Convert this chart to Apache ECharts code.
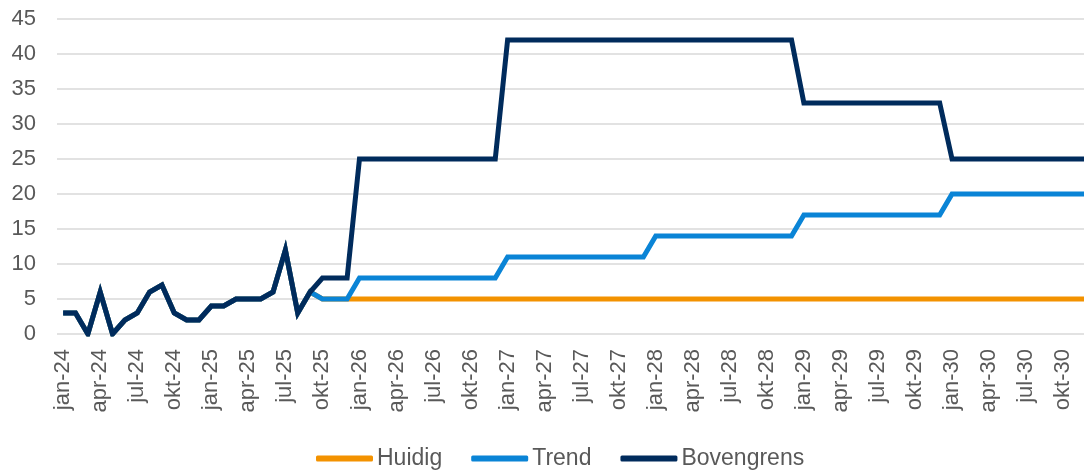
<!DOCTYPE html>
<html>
<head>
<meta charset="utf-8">
<script src="https://cdn.jsdelivr.net/npm/echarts@6/dist/echarts.min.js"></script>
<style>
    html, body { margin: 0; padding: 0; background: #fff; }
    #chartMain { width: 1084px; height: 471px; }
</style>
</head>
<body>
<div id="chartMain"></div>
<script>
// maandnamen voor de as (jan-24 t/m dec-30)
var monthNames = ['jan','feb','mrt','apr','mei','jun','jul','aug','sep','okt','nov','dec'];
var years = ['24','25','26','27','28','29','30'];

// gerealiseerd (jan-24 t/m sep-25)
var realised = [3,3,0,6,0,2,3,6,7,3,2,2,4,4,5,5,5,6,12,3,6];

// vooruitblik okt-25 t/m dec-30
var huidigForecast = [5,5,5,
    5,5,5,5,5,5,5,5,5,5,5,5,
    5,5,5,5,5,5,5,5,5,5,5,5,
    5,5,5,5,5,5,5,5,5,5,5,5,
    5,5,5,5,5,5,5,5,5,5,5,5,
    5,5,5,5,5,5,5,5,5,5,5,5];
var trendForecast = [5,5,5,
    8,8,8,8,8,8,8,8,8,8,8,8,
    11,11,11,11,11,11,11,11,11,11,11,11,
    14,14,14,14,14,14,14,14,14,14,14,14,
    17,17,17,17,17,17,17,17,17,17,17,17,
    20,20,20,20,20,20,20,20,20,20,20,20];
var bovengrensForecast = [8,8,8,
    25,25,25,25,25,25,25,25,25,25,25,25,
    42,42,42,42,42,42,42,42,42,42,42,42,
    42,42,42,42,42,42,42,42,42,42,42,42,
    33,33,33,33,33,33,33,33,33,33,33,33,
    25,25,25,25,25,25,25,25,25,25,25,25];

var yTicks = [0,5,10,15,20,25,30,35,40,45];

var categories = [];
for (var y = 0; y < years.length; y++) {
    for (var m = 0; m < monthNames.length; m++) {
        categories.push(monthNames[m] + '-' + years[y]);
    }
}

var fontName = '"Liberation Sans", Arial, sans-serif';
var textColor = '#595959';

function makeLine(name, color, forecast) {
    return {
        name: name,
        type: 'line',
        data: realised.concat(forecast),
        symbol: 'none',
        lineStyle: { color: color, width: 5, join: 'miter' },
        itemStyle: { color: color },
        animation: false
    };
}

var myChart = echarts.init(document.getElementById('chartMain'));
var option = {
    backgroundColor: '#fff',
    // plot loopt rechts iets buiten beeld door (laatste maand valt weg)
    grid: { left: 57, width: 1037, top: 19, bottom: 137, outerBoundsMode: 'none' },
    legend: {
        bottom: 1,
        left: 316,
        padding: 0,
        icon: 'roundRect',
        itemWidth: 57,
        itemHeight: 6,
        itemGap: 29,
        textStyle: { fontFamily: fontName, fontSize: 23, color: textColor, padding: [0, 0, 0, -1] },
        data: ['Huidig', 'Trend', 'Bovengrens']
    },
    xAxis: {
        type: 'category',
        data: categories,
        boundaryGap: true,
        axisLine: { show: false },
        axisTick: { show: false },
        axisLabel: {
            interval: 2,
            rotate: 90,
            margin: 15,
            fontFamily: fontName,
            fontSize: 22,
            color: textColor
        }
    },
    yAxis: {
        type: 'value',
        min: yTicks[0],
        max: yTicks[yTicks.length - 1],
        interval: 5,
        axisLine: { show: false },
        axisTick: { show: false },
        axisLabel: { margin: 21, fontFamily: fontName, fontSize: 22, color: textColor },
        splitLine: { lineStyle: { color: '#d9d9d9', width: 1.5 } }
    },
    series: [
        makeLine('Huidig', '#f39200', huidigForecast),
        makeLine('Trend', '#0a84d6', trendForecast),
        makeLine('Bovengrens', '#002b5c', bovengrensForecast)
    ]
};
myChart.setOption(option);
</script>
</body>
</html>
